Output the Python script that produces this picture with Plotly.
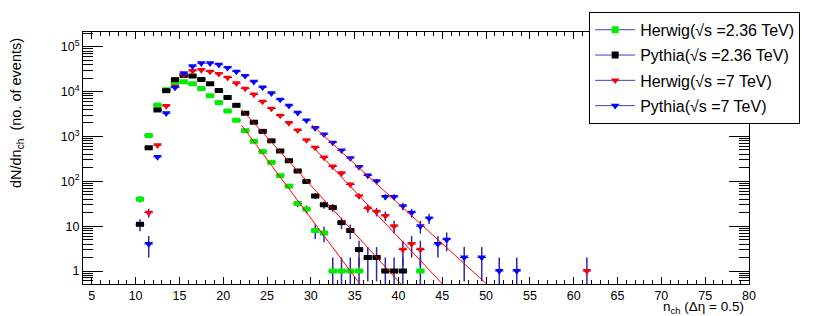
import numpy as np
import plotly.graph_objects as go

# ---------------- data ----------------
herwig236_x = [10.5, 11.5, 12.5, 13.5, 14.5, 15.5, 16.5, 17.5, 18.5, 19.5, 20.5, 21.5, 22.5,
               23.5, 24.5, 25.5, 26.5, 27.5, 28.5, 29.5, 30.5, 31.5, 32.5, 33.5, 34.5, 35.5, 42.5]
herwig236_y = [40, 1050, 5000, 11000, 15800, 16600, 15000, 11700, 8100, 5700, 3700, 2300, 1350,
               780, 460, 265, 134, 78, 32, 24, 8, 7, 1, 1, 1, 1, 1]

pythia236_x = [10.5, 11.5, 12.5, 13.5, 14.5, 15.5, 16.5, 17.5, 18.5, 19.5, 20.5, 21.5, 22.5,
               23.5, 24.5, 25.5, 26.5, 27.5, 28.5, 29.5, 30.5, 31.5, 32.5, 33.5, 34.5, 35.5,
               36.5, 37.5, 38.5, 39.5, 40.5]
pythia236_y = [11, 560, 3900, 10500, 18500, 23000, 22300, 18700, 15000, 10600, 7400, 4950, 3300,
               2080, 1300, 800, 475, 288, 170, 99, 47, 30, 26, 12, 8, 3,
               2, 2, 1, 1, 1]

herwig7_x = [11.5, 12.5, 13.5, 14.5, 15.5, 16.5, 17.5, 18.5, 19.5, 20.5, 21.5, 22.5, 23.5,
             24.5, 25.5, 26.5, 27.5, 28.5, 29.5, 30.5, 31.5, 32.5, 33.5, 34.5, 35.5, 36.5,
             37.5, 38.5, 39.5, 40.5, 41.5, 42.5, 61.5]
herwig7_y = [20, 640, 4800, 13000, 24000, 29000, 30400, 28000, 25000, 20600, 15400, 11700, 8650,
             6000, 4200, 2930, 2000, 1370, 830, 565, 340, 215, 152, 85, 47, 25,
             21, 17, 10, 3, 4, 3, 1]

pythia7_x = [11.5, 12.5, 13.5, 14.5, 15.5, 16.5, 17.5, 18.5, 19.5, 20.5, 21.5, 22.5, 23.5,
             24.5, 25.5, 26.5, 27.5, 28.5, 29.5, 30.5, 31.5, 32.5, 33.5, 34.5, 35.5, 36.5,
             37.5, 38.5, 39.5, 40.5, 41.5, 42.5, 43.5, 44.5, 45.5, 47.5, 49.5, 51.5, 53.5]
pythia7_y = [4, 350, 3300, 12300, 26000, 37000, 43000, 43000, 40000, 34000, 28000, 22500, 16700,
             12500, 9250, 6650, 4850, 3400, 2300, 1550, 1120, 730, 490, 330, 210, 135,
             101, 45, 45, 28, 20, 10, 15, 4, 5, 2, 2, 1, 1]

# exponential fits: log10(y) = a + b * x over [start, end]
fit_herwig236 = dict(a=9.04, b=-0.262, start=22.1, end=60.0)
fit_pythia236 = dict(a=8.33, b=-0.214, start=22.1, end=60.0)
fit_herwig7 = dict(a=9.03, b=-0.207, start=30.1, end=60.0)
fit_pythia7 = dict(a=8.62, b=-0.178, start=30.15, end=60.0)

legend_names = [
    "Herwig(√s =2.36 TeV)",
    "Pythia(√s =2.36 TeV)",
    "Herwig(√s =7 TeV)",
    "Pythia(√s =7 TeV)",
]

x_tick_vals = [5, 10, 15, 20, 25, 30, 35, 40, 45, 50, 55, 60, 65, 70, 75, 80]
y_tick_vals = [1, 10, 100, 1000, 10000, 100000]
y_tick_text = ["1", "10", "10<sup>2</sup>", "10<sup>3</sup>", "10<sup>4</sup>", "10<sup>5</sup>"]

# ---------------- styling ----------------
FONT = "Liberation Sans, Arial, Helvetica, sans-serif"
ERR = "#2a2aa8"
LEG_LINE = "#3c3cd0"

series = [
    (herwig236_x, herwig236_y, fit_herwig236, dict(symbol="line-ew", size=5.8, color="#00ee00",
                                                   line=dict(color="#00ee00", width=5))),
    (pythia236_x, pythia236_y, fit_pythia236, dict(symbol="line-ew", size=5.8, color="#000000",
                                                   line=dict(color="#000000", width=5))),
    (herwig7_x, herwig7_y, fit_herwig7, dict(symbol="triangle-down", size=7.5, color="#ff0000",
                                             line=dict(width=0))),
    (pythia7_x, pythia7_y, fit_pythia7, dict(symbol="triangle-down", size=7.5, color="#0000ff",
                                             line=dict(width=0))),
]

fig = go.Figure()

for xs, ys, fit, mk in series:
    yv = np.array(ys, dtype=float)
    fig.add_trace(go.Scatter(
        x=xs, y=ys, mode="markers", marker=mk, showlegend=False,
        error_y=dict(type="data", array=np.sqrt(yv), color=ERR, thickness=1.5, width=0),
        error_x=dict(type="constant", value=0.5, color=ERR, thickness=1, width=0),
        hoverinfo="x+y",
    ))

for xs, ys, fit, mk in series:
    fx = np.linspace(fit["start"], fit["end"], 60)
    fy = 10 ** (fit["a"] + fit["b"] * fx)
    fig.add_trace(go.Scatter(x=fx, y=fy, mode="lines", line=dict(color="#ff0000", width=1),
                             showlegend=False, hoverinfo="skip"))

# legend entries (ROOT-style: blue line with marker)
for i, (name, (xs, ys, fit, mk)) in enumerate(zip(legend_names, series)):
    lm = dict(mk)
    if mk["symbol"] == "line-ew":
        lm = dict(symbol="square", size=7, color=mk["color"], line=dict(width=0))
    fig.add_trace(go.Scatter(x=[None], y=[None], mode="lines+markers", name=name,
                             legendgroup="g%d" % i,
                             line=dict(color=LEG_LINE, width=1), marker=lm))

minor_y = [k * 10 ** d for d in range(-1, 6) for k in range(2, 10)]

# the page body has an 8 px margin, so the figure is 8 px smaller and margins shifted
fig.update_layout(
    width=822, height=308,
    margin=dict(l=75, r=81, t=24, b=32, autoexpand=False),
    paper_bgcolor="white", plot_bgcolor="white",
    font=dict(family=FONT, size=12, color="black"),
    showlegend=True,
    legend=dict(x=0.76, y=1.08, xanchor="left", yanchor="top",
                bgcolor="white", bordercolor="black", borderwidth=1,
                font=dict(family=FONT, size=16, color="black"),
                tracegroupgap=1.5, itemwidth=40),
    xaxis=dict(range=[4, 80], tickmode="array", tickvals=x_tick_vals,
               ticks="inside", ticklen=7, tickwidth=1, tickcolor="black",
               showline=True, linecolor="black", linewidth=1, mirror="ticks",
               showgrid=False, zeroline=False,
               tickfont=dict(family=FONT, size=12.5),
               minor=dict(dtick=1, tick0=0, ticks="inside", ticklen=4, tickcolor="black",
                          tickwidth=1, showgrid=False)),
    yaxis=dict(type="log", range=[-0.29, 5.33], tickmode="array",
               tickvals=y_tick_vals, ticktext=y_tick_text,
               ticks="inside", ticklen=20, tickwidth=1, tickcolor="black",
               showline=True, linecolor="black", linewidth=1, mirror="ticks",
               showgrid=False, zeroline=False,
               tickfont=dict(family=FONT, size=12.5),
               minor=dict(tickmode="array", tickvals=minor_y, ticks="inside", ticklen=10,
                          tickcolor="black", tickwidth=1, showgrid=False)),
    annotations=[
        dict(text="dN/dn<sub>ch</sub>  (no. of events)", xref="paper", yref="paper",
             x=-0.1, y=0.68, xanchor="center", yanchor="middle", textangle=-90,
             showarrow=False, font=dict(family=FONT, size=14.5)),
        dict(text="n<sub>ch</sub> (Δη = 0.5)", xref="paper", yref="paper",
             x=0.995, y=-0.094, xanchor="right", yanchor="middle",
             showarrow=False, font=dict(family=FONT, size=13.5)),
    ],
)

fig.write_html("out.html")
